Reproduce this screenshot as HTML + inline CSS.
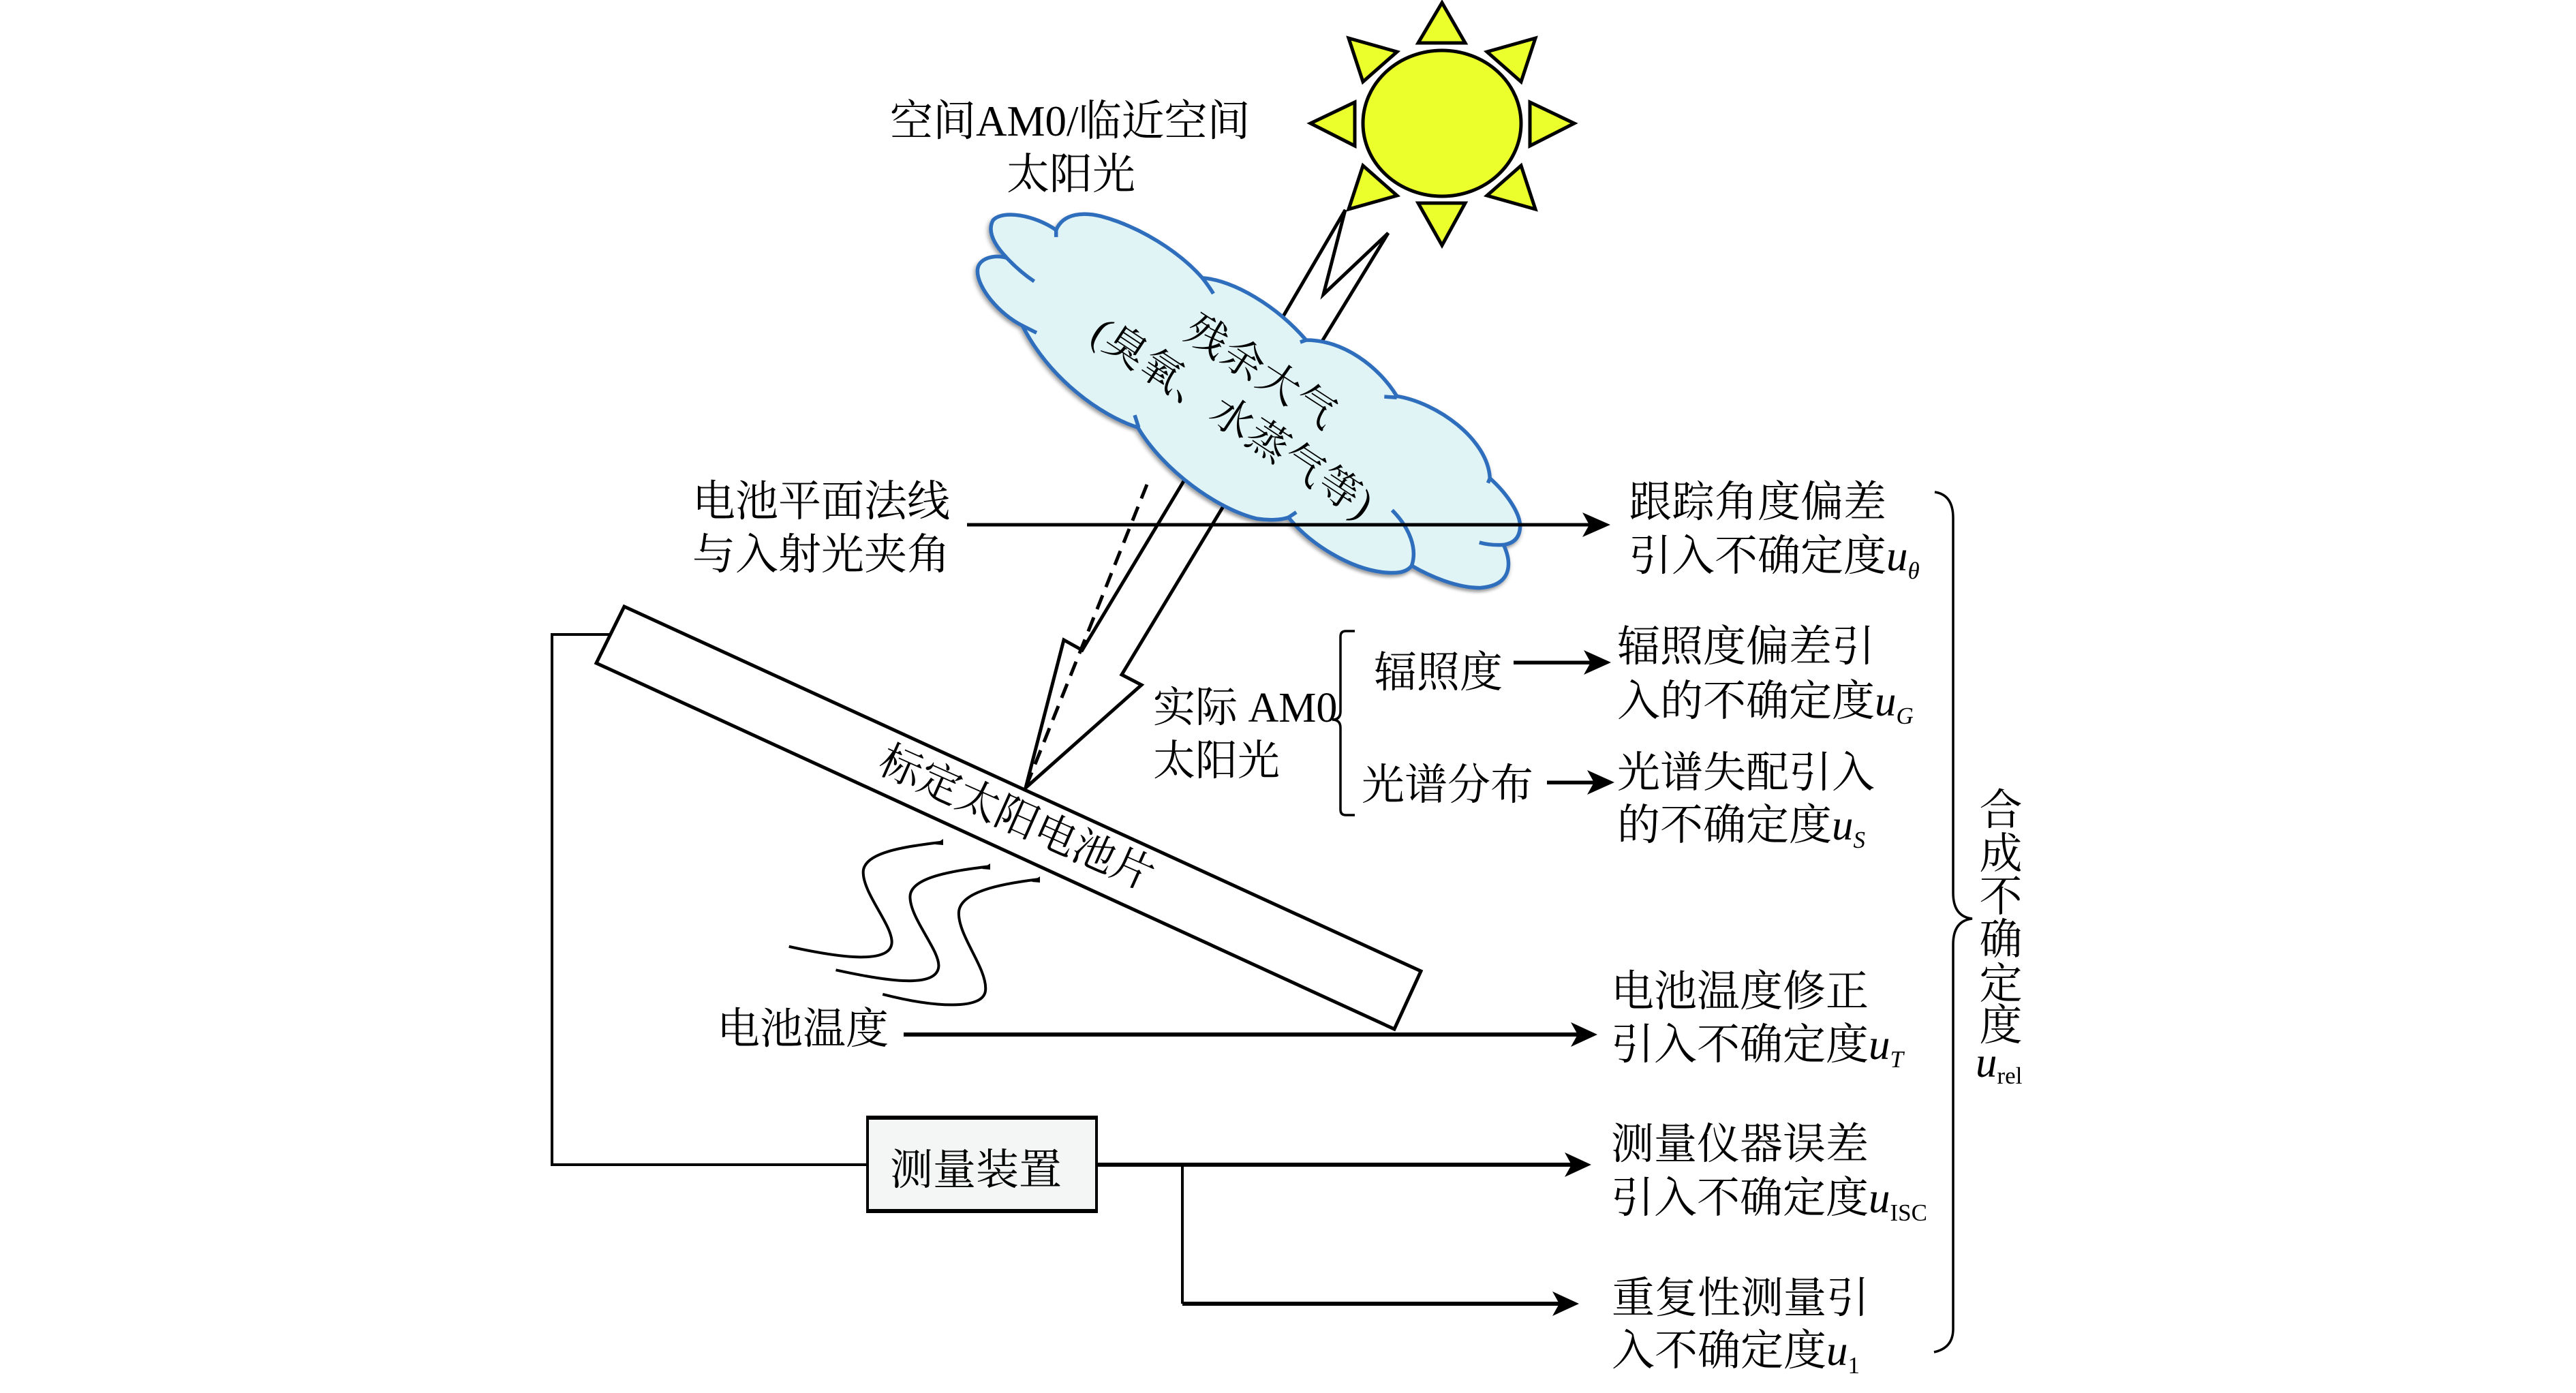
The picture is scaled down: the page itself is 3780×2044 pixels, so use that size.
<!DOCTYPE html>
<html><head><meta charset="utf-8"><style>
html,body{margin:0;padding:0;background:#fff;width:3780px;height:2044px;overflow:hidden}
svg{display:block}
text{font-family:"Liberation Serif","Noto Serif CJK SC",serif;font-size:63px;fill:#000}
.i{font-style:italic}
.s{font-size:35px}
.k{fill:none;stroke:#000;stroke-width:4}
.nv{vector-effect:non-scaling-stroke}
</style></head><body>
<svg xmlns="http://www.w3.org/2000/svg" width="3780" height="2044" viewBox="0 0 3780 2044">
<defs>
<filter id="sh" x="-10%" y="-10%" width="120%" height="120%"><feDropShadow dx="-3" dy="9" stdDeviation="6" flood-color="#000" flood-opacity=".4"/></filter>
</defs>
<rect width="3780" height="2044" fill="#fff"/>

<!-- sun -->
<g fill="#eaff2c" stroke="#000" stroke-width="5" stroke-linejoin="miter">
<ellipse cx="2116" cy="181" rx="116" ry="107"/>
<polygon points="2116,4 2081,63 2150,63"/>
<polygon points="2081,298 2150,298 2116,360"/>
<polygon points="1923,181 1988,150 1988,214"/>
<polygon points="2310,181 2245,150 2245,214"/>
<polygon points="1979,56 2050,76 2000,120"/>
<polygon points="2253,56 2182,76 2232,120"/>
<polygon points="1979,307 2050,287 2000,243"/>
<polygon points="2253,307 2182,287 2232,243"/>
</g>

<!-- light bolt -->
<g fill="#fff" stroke="#000" stroke-width="5" stroke-linejoin="miter">
<polygon points="1974,308 1855,512 1905,558 2037,342 1942,432" />
<polygon points="1770,651 1588,954 1561,939 1505,1156 1675,1005 1646,990 1830,685" />
</g>
<path d="M1683,711 L1505,1156" fill="none" stroke="#000" stroke-width="5" stroke-dasharray="22,13"/>

<!-- cloud -->
<g transform="translate(1420,300) scale(0.574,0.3827)">
<path class="nv" filter="url(#sh)" fill="#e0f4f5" stroke="#2f6ebc" stroke-width="5.5" d="M226,98 C245,30 300,30 340,45 C440,85 540,180 600,282 C680,290 790,390 865,520 C960,520 1050,620 1097,735 C1200,760 1330,900 1335,1050 C1380,1110 1415,1190 1412,1240 C1410,1280 1395,1300 1370,1305 C1390,1370 1395,1460 1310,1470 C1250,1470 1180,1425 1135,1385 C1120,1415 1090,1415 1060,1410 C980,1395 880,1310 820,1200 C800,1210 770,1212 740,1205 C640,1170 500,1020 435,855 C340,810 210,670 140,465 C80,420 25,320 25,255 C25,205 70,190 100,205 C65,150 50,100 65,60 C90,20 170,40 226,98 Z"/>
<path class="nv" fill="none" stroke="#2f6ebc" stroke-width="5.5" d="M100,205 C125,245 145,270 170,295 M600,282 C612,305 620,322 628,342 M850,528 L865,520 M1065,737 L1097,740 M140,465 L176,492 M427,808 L437,855 M820,1200 L840,1180 M1085,1172 C1130,1240 1150,1320 1135,1385 M1308,1296 C1330,1305 1350,1307 1370,1305 M1335,1050 L1330,1068 M226,98 L226,125"/>
</g>

<!-- cloud text -->
<text x="1850" y="546" text-anchor="middle" dominant-baseline="central" transform="rotate(33 1850 546)" textLength="250" lengthAdjust="spacing" style="font-size:61px">残余大气</text>
<text x="1808" y="614" text-anchor="middle" dominant-baseline="central" transform="rotate(33.5 1808 614)" textLength="480" lengthAdjust="spacing" style="font-size:61px">(臭氧、水蒸气等)</text>

<!-- arrows -->
<g fill="#000">
<rect x="1419" y="767.5" width="920" height="5"/>
<polygon points="2363,770 2322,752 2332,770 2322,788"/>
<rect x="2221" y="969.5" width="115" height="5.5"/>
<polygon points="2364,972 2324,954 2334,972 2324,990"/>
<rect x="2270" y="1145.5" width="75" height="5.5"/>
<polygon points="2369,1148 2329,1130 2339,1148 2329,1166"/>
<rect x="1326" y="1515" width="990" height="6"/>
<polygon points="2344,1518 2305,1500 2315,1518 2305,1536"/>
<rect x="1610" y="1706" width="700" height="6"/>
<polygon points="2335,1709 2296,1691 2306,1709 2296,1727"/>
<rect x="1735" y="1910" width="560" height="6"/>
<polygon points="2317,1913 2278,1895 2288,1913 2278,1931"/>
</g>

<!-- panel -->
<polygon points="916,890 875,973 2046,1510 2085,1425" fill="#fff" stroke="#000" stroke-width="5"/>
<text x="1492" y="1201" text-anchor="middle" dominant-baseline="central" transform="rotate(24 1492 1201)" style="font-size:62px">标定太阳电池片</text>

<!-- wires -->
<path d="M895,931 H810 V1709 H1273" fill="none" stroke="#000" stroke-width="4"/>
<path d="M1735,1709 V1913" fill="none" stroke="#000" stroke-width="4"/>
<rect x="1273" y="1639" width="336" height="139" fill="#f3f6f5" stroke="#000" stroke-width="4"/>
<path d="M1271,1640 H1611 M1271,1777 H1611" stroke="#000" stroke-width="6"/>
<text x="1306" y="1738">测量装置</text>

<!-- squiggles -->
<g transform="translate(780,680) scale(0.893,0.574)" fill="none" stroke="#000" stroke-width="4">
<path class="nv" d="M675,968 C610,980 545,995 545,1045 C545,1100 593,1180 592,1225 C590,1280 510,1265 423,1235"/>
<path class="nv" d="M752,1030 C690,1042 622,1058 622,1108 C622,1163 670,1243 669,1285 C667,1342 588,1325 500,1295"/>
<path class="nv" d="M833,1063 C770,1075 702,1095 702,1150 C702,1210 748,1290 746,1345 C745,1400 660,1390 577,1357"/>
</g>
<g fill="#000">
<polygon points="1384,1231 1384,1240 1372,1239"/>
<polygon points="1453,1267 1453,1276 1441,1275"/>
<polygon points="1526,1286 1526,1295 1514,1294"/>
</g>

<!-- braces -->
<path class="k" style="stroke-width:3.5" d="M1988,926 H1975 Q1967,926 1967,934 V1044 Q1967,1056 1955,1056 Q1967,1056 1967,1068 V1188 Q1967,1196 1975,1196 H1988"/>
<path class="k" style="stroke-width:3.5" d="M2839,722 Q2866,726 2866,760 V1310 Q2866,1345 2894,1348 Q2866,1351 2866,1386 V1950 Q2866,1978 2838,1984"/>

<!-- texts -->
<text x="1306" y="199">空间AM0/临近空间</text>
<text x="1477" y="277">太阳光</text>
<text x="1016" y="757">电池平面法线</text>
<text x="1016" y="835">与入射光夹角</text>
<text x="1052" y="1531">电池温度</text>
<text x="1692" y="1059" style="font-size:62px">实际 AM0</text>
<text x="1692" y="1137" style="font-size:62px">太阳光</text>
<text x="2016" y="1008">辐照度</text>
<text x="1998" y="1173">光谱分布</text>

<text x="2390" y="758">跟踪角度偏差</text>
<text x="2390" y="837">引入不确定度<tspan class="i">u</tspan><tspan class="i s" dy="12">θ</tspan></text>
<text x="2373" y="970">辐照度偏差引</text>
<text x="2373" y="1050">入的不确定度<tspan class="i">u</tspan><tspan class="i s" dy="12">G</tspan></text>
<text x="2373" y="1155">光谱失配引入</text>
<text x="2373" y="1232">的不确定度<tspan class="i">u</tspan><tspan class="i s" dy="12">S</tspan></text>
<text x="2364" y="1476">电池温度修正</text>
<text x="2364" y="1554">引入不确定度<tspan class="i">u</tspan><tspan class="i s" dy="12">T</tspan></text>
<text x="2364" y="1700">测量仪器误差</text>
<text x="2364" y="1779">引入不确定度<tspan class="i">u</tspan><tspan class="s" dy="12">ISC</tspan></text>
<text x="2365" y="1926">重复性测量引</text>
<text x="2365" y="2003">入不确定度<tspan class="i">u</tspan><tspan class="s" dy="12">1</tspan></text>

<g text-anchor="middle">
<text x="2936" y="1210">合</text>
<text x="2936" y="1274">成</text>
<text x="2936" y="1337">不</text>
<text x="2936" y="1400">确</text>
<text x="2936" y="1465">定</text>
<text x="2936" y="1526">度</text>
</g>
<text x="2899" y="1580"><tspan class="i">u</tspan><tspan class="s" dy="10">rel</tspan></text>
</svg>
</body></html>
